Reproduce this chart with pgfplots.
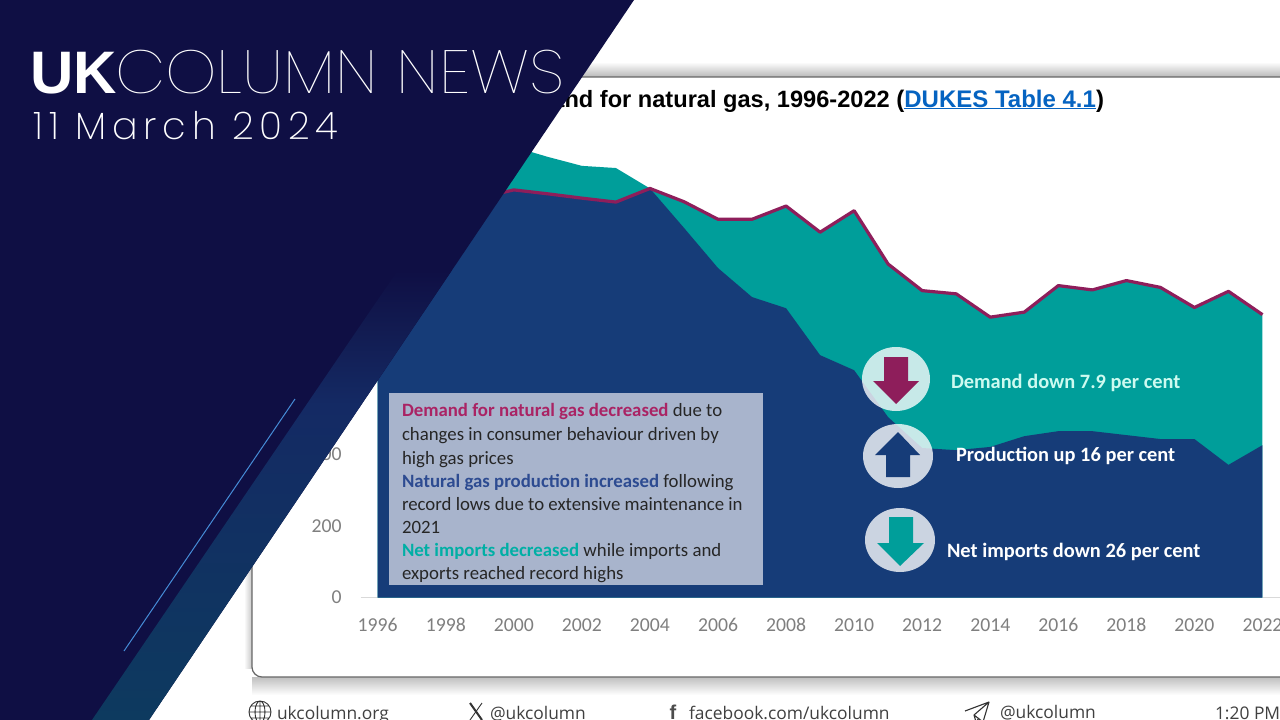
\documentclass[border=0pt]{standalone}
\usepackage{fontspec}
\usepackage{pgfplots}
\usepackage{pgfplotstable}
\pgfplotsset{compat=1.18}
\setmainfont{Carlito}
\newfontfamily\arialf{Liberation Sans}
\newfontfamily\thinf[FakeStretch=1.07]{Poppins Thin}
\newfontfamily\dategf[LetterSpace=15]{Poppins ExtraLight}
\newfontfamily\footf{Open Sans}
\definecolor{navy}{RGB}{15,15,68}
\definecolor{chartblue}{RGB}{22,60,120}
\definecolor{teal2}{RGB}{0,158,154}
\definecolor{mag}{RGB}{142,30,91}
\definecolor{boxc}{RGB}{168,180,204}
\definecolor{tickc}{RGB}{127,127,127}
\definecolor{bandBot}{RGB}{13,58,95}
\definecolor{bandMid}{RGB}{20,42,100}
\definecolor{bandFade}{RGB}{18,28,82}
\definecolor{linkc}{RGB}{5,99,193}
\definecolor{demt}{RGB}{170,35,100}
\definecolor{prodt}{RGB}{45,75,145}
\definecolor{nett}{RGB}{0,175,165}
\definecolor{thinline}{RGB}{70,140,215}
\definecolor{demtxt}{RGB}{205,250,240}
\pgfdeclareverticalshading{bandshade}{100bp}{color(0bp)=(bandBot); color(25bp)=(bandBot); color(60bp)=(bandMid); color(68bp)=(bandFade); color(75bp)=(navy); color(100bp)=(navy)}
\pgfdeclareverticalshading{cardtop}{100bp}{color(0bp)=(black!28); color(25bp)=(black!28); color(75bp)=(white); color(100bp)=(white)}
\pgfdeclareverticalshading{cardbot}{100bp}{color(0bp)=(white); color(25bp)=(white); color(75bp)=(black!25); color(100bp)=(black!25)}
\pgfdeclarehorizontalshading{cardleft}{100bp}{color(0bp)=(white); color(25bp)=(white); color(75bp)=(black!22); color(100bp)=(black!22)}
\pgfplotstableread{
year top production demand
1996 1050 1010 1010
1997 1085 1040 1040
1998 1160 1080 1080
1999 1260 1115 1115
2000 1257 1137 1137
2001 1229 1126 1126
2002 1204 1114 1114
2003 1198 1103 1103
2004 1141 1141 1141
2005 1104 1031 1104
2006 1055 919 1055
2007 1055 838 1055
2008 1092 807 1092
2009 1019 676 1019
2010 1079 634 1079
2011 930 503 930
2012 856 417 856
2013 847 411 847
2014 782 420 782
2015 796 450 796
2016 870 464 870
2017 858 464 858
2018 884 453 884
2019 865 442 865
2020 809 442 809
2021 854 370 854
2022 789 425 789
}\gasdata
\begin{document}
\begin{tikzpicture}[x=1pt,y=-1pt,inner sep=0pt,outer sep=0pt]
\clip (0,0) rectangle (1280,720);
\fill[white] (0,0) rectangle (1280,720);
% card
\shade[shading=cardtop] (240,62) rectangle (1280,77);
\shade[shading=cardbot] (252,677) rectangle (1280,695);
\shade[shading=cardleft] (244,85) rectangle (252,668);
\draw[black!60,line width=1.2pt,fill=white,rounded corners=10pt] (252,77) rectangle (1300,677);
% title
\node[anchor=base east,font=\arialf\bfseries\fontsize{24}{28}\selectfont,text=black] at (1104,107) {{\fontsize{23.6}{28}\selectfont Demand for natural gas, 1996-2022 }(\textcolor{linkc}{\underline{DUKES Table 4.1}})};
\begin{axis}[
  at={(360.7pt,-597.5pt)},anchor=south west,
  scale only axis,width=918.8pt,height=466.05pt,
  xmin=1995.5,xmax=2022.5,ymin=0,ymax=1300,
  axis x line*=bottom,axis y line*=left,
  y axis line style={draw=none},
  x axis line style={draw=black!15,line width=1pt,-},
  major tick length=0pt,
  xtick={1996,1998,...,2022},
  ytick={0,200,400,600,800,1000,1200},
  /pgf/number format/1000 sep={},
  /pgf/number format/assume math mode=true,
  tick label style={font=\fontsize{19.7}{22}\selectfont,text=tickc},
  xticklabel style={text height=13pt,text depth=0pt,yshift=-21pt},
  yticklabel style={xshift=-19pt},
  clip=false,
]
\addplot[fill=teal2,draw=none] table[x=year,y=top] {\gasdata} \closedcycle;
\addplot[fill=chartblue,draw=none] table[x=year,y=production] {\gasdata} \closedcycle;
\addplot[draw=mag,line width=3.2pt,line join=round] table[x=year,y=demand] {\gasdata};
\end{axis}
% annotation box
\fill[boxc] (389,392.5) rectangle (763,585);
\begin{scope}[every node/.style={anchor=base west,font=\fontsize{18.8}{22}\selectfont,text=black!85}]
\node at (402,416) {\textcolor{demt}{\bfseries Demand for natural gas decreased} due to};
\node at (402,440) {changes in consumer behaviour driven by};
\node at (402,464) {high gas prices};
\node at (402,487) {\textcolor{prodt}{\bfseries Natural gas production increased} following};
\node at (402,510) {record lows due to extensive maintenance in};
\node at (402,533) {2021};
\node at (402,556) {\textcolor{nett}{\bfseries Net imports decreased} while imports and};
\node at (402,579) {exports reached record highs};
\end{scope}
% circles and arrows
\fill[white,opacity=.78] (896,379) ellipse (34 and 32);
\fill[mag] (884,357)--(908,357)--(908,381)--(919,381)--(896,404)--(873,381)--(884,381)--cycle;
\fill[white,opacity=.78] (898,456) ellipse (35 and 32);
\fill[chartblue] (886,477)--(910,477)--(910,455)--(920,455)--(898,432)--(875,455)--(886,455)--cycle;
\fill[white,opacity=.78] (900,540) ellipse (35 and 32);
\fill[teal2] (889,517)--(913,517)--(913,543)--(924,543)--(900,566)--(877,543)--(889,543)--cycle;
\begin{scope}[every node/.style={anchor=base west,font=\fontsize{20.4}{22}\selectfont}]
\node[text=demtxt] at (951,388) {\bfseries Demand down 7.9 per cent};
\node[text=white] at (956,461) {\bfseries Production up 16 per cent};
\node[text=white] at (947,557) {\bfseries Net imports down 26 per cent};
\end{scope}
% footer
\begin{scope}[every node/.style={anchor=base west,font=\footf\fontsize{17.4}{22}\selectfont,text=black!75}]
\node at (277,719) {ukcolumn.org};
\node at (490,719) {@ukcolumn};
\node at (689,719) {facebook.com/ukcolumn};
\node at (1000,718) {@ukcolumn};
\node at (1215,719) {1:20 PM};
\end{scope}
\draw[black!80,line width=.9pt] (260,712) circle (11) (249,712)--(271,712) (251,706)--(269,706) (251,718)--(269,718) (260,701)--(260,723) (260,712) ellipse (5 and 11);
\draw[black!80,line width=2pt] (470,703)--(482,720);
\draw[black!80,line width=.9pt] (482,703)--(470,720);
\node[anchor=base,font=\arialf\bfseries\fontsize{20}{22}\selectfont,text=black!70] at (673,719) {f};
\draw[black!80,line width=1.1pt,line join=round] (965,711)--(989,702)--(983,722)--(974,715)--(989,702) (974,715)--(976,722)--(979,718);
% overlay
\fill[navy] (0,0)--(634,0)--(149,720)--(0,720)--cycle;
\shade[shading=bandshade] (398,270)--(452,270)--(149,720)--(92,720)--cycle;
\draw[thinline,line width=1pt] (124,651)--(295,399);
% banner text
\node[anchor=base west,text=white,font=\arialf\bfseries\fontsize{60}{60}\selectfont] at (30,93) {UK};
\node[anchor=base west,text=white,font=\thinf\fontsize{61}{60}\selectfont] at (115,93) {COLUMN NEWS};
\node[anchor=base west,text=white,font=\dategf\fontsize{38}{36}\selectfont] at (34,139) {11 March 2024};
\end{tikzpicture}
\end{document}
